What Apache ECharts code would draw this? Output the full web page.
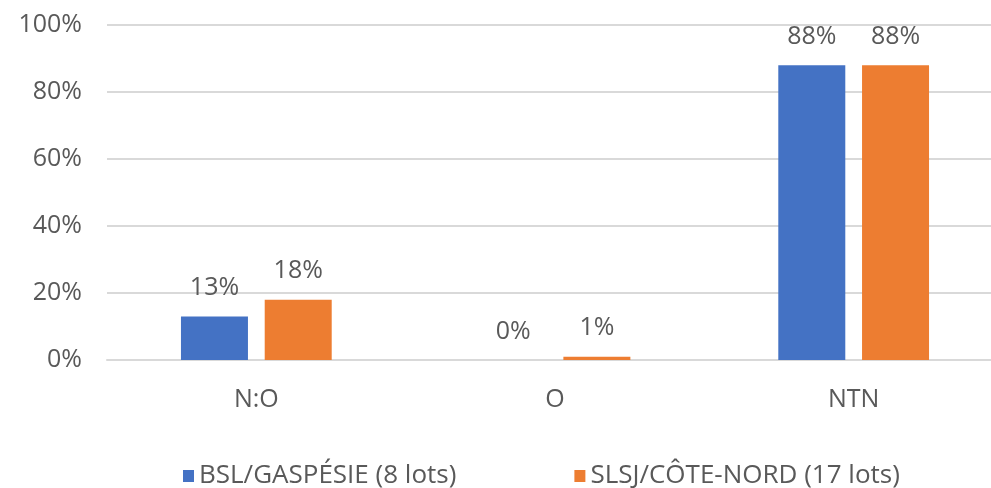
<!DOCTYPE html>
<html>
<head>
<meta charset="utf-8">
<script src="https://cdn.jsdelivr.net/npm/echarts@6/dist/echarts.min.js"></script>
<style>
  html, body { margin: 0; padding: 0; background: #fff; overflow: hidden; }
  #chart { width: 1010px; height: 488px; }
</style>
</head>
<body>
<div id="chart"></div>
<script>
// categories and values (percent)
var categories = ["N:O", "O", "NTN"];
var seriesNames = ["BSL/GASPÉSIE (8 lots)", "SLSJ/CÔTE-NORD (17 lots)"];
var bslValues = [13, 0, 88];
var slsjValues = [18, 1, 88];
var yTicks = [0, 20, 40, 60, 80, 100];

var chart = echarts.init(document.getElementById("chart"));
var textColor = "#595959";
var font = "'Open Sans', 'Noto Sans', sans-serif";

chart.setOption({
  animation: false,
  textStyle: { fontFamily: font },
  grid: {
    left: 107,
    top: 25,
    width: 896,
    height: 335
  },
  legend: {
    top: 462,
    left: 183,
    padding: 0,
    itemGap: 118,
    itemWidth: 11,
    itemHeight: 12,
    icon: "rect",
    textStyle: {
      color: textColor,
      fontSize: 26,
      lineHeight: 28
    },
    data: seriesNames
  },
  xAxis: {
    type: "category",
    data: categories,
    axisLine: { show: true, lineStyle: { color: "#d9d9d9", width: 2 } },
    axisTick: { show: false },
    axisLabel: { color: textColor, fontSize: 25, margin: 27 }
  },
  yAxis: {
    type: "value",
    min: yTicks[0],
    max: yTicks[yTicks.length - 1],
    interval: 20,
    axisLine: { show: false },
    axisTick: { show: false },
    splitLine: { lineStyle: { color: "#d9d9d9", width: 2 } },
    axisLabel: {
      color: textColor,
      fontSize: 25,
      margin: 25,
      formatter: "{value}%"
    }
  },
  series: [
    {
      name: seriesNames[0],
      type: "bar",
      data: bslValues,
      barWidth: 67,
      barGap: "25%",
      itemStyle: { color: "#4472C4" },
      label: {
        show: true,
        position: "top",
        distance: 16,
        color: textColor,
        fontSize: 25,
        formatter: "{c}%"
      }
    },
    {
      name: seriesNames[1],
      type: "bar",
      data: slsjValues,
      barWidth: 67,
      barGap: "25%",
      itemStyle: { color: "#ED7D31" },
      label: {
        show: true,
        position: "top",
        distance: 16,
        color: textColor,
        fontSize: 25,
        formatter: "{c}%"
      }
    }
  ]
});
</script>
</body>
</html>
